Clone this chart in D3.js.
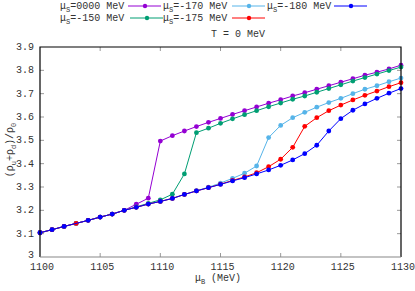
<!DOCTYPE html>
<html>
<head>
<meta charset="utf-8">
<script src="https://cdn.jsdelivr.net/npm/d3@7"></script>
<style>
  body { margin: 0; background: #fff; }
  text { font-family: "Liberation Mono", "DejaVu Sans Mono", monospace; fill: #333; }
</style>
</head>
<body>
<svg id="chart" width="415" height="291"></svg>
<script>
// mu_B values (MeV)
const muB = d3.range(1100, 1131);

// (rho_u + rho_d)/rho_0 for each mu_S
const ms0000 = [3.104, 3.117, 3.131, 3.144, 3.157, 3.171, 3.184, 3.2, 3.226, 3.252,
  3.497, 3.52, 3.54, 3.559, 3.577, 3.594, 3.611, 3.627, 3.643, 3.659,
  3.674, 3.69, 3.704, 3.719, 3.734, 3.749, 3.764, 3.779, 3.792, 3.806, 3.822];
const ms150 = [3.104, 3.117, 3.131, 3.144, 3.157, 3.171, 3.184, 3.2, 3.215, 3.23,
  3.245, 3.269, 3.356, 3.533, 3.552, 3.573, 3.592, 3.61, 3.627, 3.644,
  3.66, 3.676, 3.69, 3.706, 3.722, 3.738, 3.754, 3.769, 3.784, 3.799, 3.814];
const ms170 = [3.104, 3.117, 3.131, 3.144, 3.157, 3.171, 3.184, 3.2, 3.213, 3.227,
  3.238, 3.251, 3.268, 3.284, 3.299, 3.317, 3.337, 3.359, 3.39, 3.512,
  3.564, 3.597, 3.62, 3.642, 3.662, 3.68, 3.7, 3.719, 3.734, 3.751, 3.767];
const ms175 = [3.104, 3.117, 3.131, 3.144, 3.157, 3.171, 3.184, 3.2, 3.213, 3.227,
  3.238, 3.251, 3.268, 3.283, 3.297, 3.312, 3.328, 3.343, 3.361, 3.387,
  3.419, 3.47, 3.56, 3.597, 3.627, 3.651, 3.673, 3.693, 3.711, 3.73, 3.747];
const ms180 = [3.104, 3.117, 3.131, null, 3.157, 3.171, 3.184, 3.2, 3.213, 3.227,
  3.238, 3.251, 3.268, 3.283, 3.297, 3.311, 3.326, 3.34, 3.356, 3.373,
  3.393, 3.416, 3.443, 3.479, 3.54, 3.593, 3.629, 3.656, 3.68, 3.702, 3.722];

const seriesNames = ["0000", "-150", "-170", "-175", "-180"];
const seriesColors = ["#9400d3", "#009e73", "#56b4e9", "#ff0000", "#0000ff"];
const seriesValues = [ms0000, ms150, ms170, ms175, ms180];

const xTicks = [1100, 1105, 1110, 1115, 1120, 1125, 1130];
const yTicks = [3, 3.1, 3.2, 3.3, 3.4, 3.5, 3.6, 3.7, 3.8, 3.9];

const svg = d3.select("#chart");
const pLeft = 40, pRight = 401, pTop = 47, pBottom = 257;

const x = d3.scaleLinear().domain([1100, 1130]).range([pLeft, pRight]);
const y = d3.scaleLinear().domain([3, 3.9]).range([pBottom, pTop]);

// ticks (inward, on all four sides)
const tickG = svg.append("g").attr("stroke", "#999").attr("stroke-width", 1);
xTicks.slice(1, -1).forEach(t => {
  tickG.append("line").attr("x1", x(t)).attr("x2", x(t)).attr("y1", pBottom).attr("y2", pBottom - 4);
  tickG.append("line").attr("x1", x(t)).attr("x2", x(t)).attr("y1", pTop).attr("y2", pTop + 4);
});
yTicks.slice(1, -1).forEach(t => {
  tickG.append("line").attr("x1", pLeft).attr("x2", pLeft + 4).attr("y1", y(t)).attr("y2", y(t));
  tickG.append("line").attr("x1", pRight).attr("x2", pRight - 4).attr("y1", y(t)).attr("y2", y(t));
});

// tick labels
svg.append("g").selectAll("text").data(xTicks).join("text")
  .attr("x", d => x(d) + 2).attr("y", 270)
  .attr("text-anchor", "middle").attr("font-size", 10)
  .text(d => d);
svg.append("g").selectAll("text").data(yTicks).join("text")
  .attr("x", 34).attr("y", d => y(d) + (d === 3 ? 1 : 3))
  .attr("text-anchor", "end").attr("font-size", 10)
  .text(d => d);

// series
const line = d3.line().x(d => x(d[0])).y(d => y(d[1]));

seriesValues.forEach((vals, i) => {
  const pts = muB.map((m, j) => [m, vals[j]]).filter(d => d[1] != null);
  const g = svg.append("g");
  g.append("path").datum(pts)
    .attr("fill", "none").attr("stroke", seriesColors[i]).attr("stroke-width", 1)
    .attr("d", line);
  g.selectAll("circle").data(pts).join("circle")
    .attr("cx", d => x(d[0])).attr("cy", d => y(d[1]))
    .attr("r", 2.4).attr("fill", seriesColors[i]);
});

// frame
svg.append("path")
  .attr("d", `M${pLeft},${pBottom}V${pTop}H${pRight}V${pBottom}`)
  .attr("fill", "none").attr("stroke", "#000").attr("stroke-width", 1.2);
svg.append("line").attr("x1", pLeft).attr("x2", pRight).attr("y1", pBottom).attr("y2", pBottom)
  .attr("stroke", "#888").attr("stroke-width", 1.2);

// axis titles
const xt = svg.append("text").attr("x", 218).attr("y", 281)
  .attr("text-anchor", "middle").attr("font-size", 10);
xt.append("tspan").text("μ");
xt.append("tspan").attr("dy", 3).attr("font-size", 7).text("B");
xt.append("tspan").attr("dy", -3).text("  (MeV)");

const yt = svg.append("text").attr("transform", "translate(13,150) rotate(-90)")
  .attr("text-anchor", "middle").attr("font-size", 10);
yt.append("tspan").text("(ρ");
yt.append("tspan").attr("dy", 3).attr("font-size", 7).text("u");
yt.append("tspan").attr("dy", -3).text("+ρ");
yt.append("tspan").attr("dy", 3).attr("font-size", 7).text("d");
yt.append("tspan").attr("dy", -3).text(")/ρ");
yt.append("tspan").attr("dy", 3).attr("font-size", 7).text("0");

// legend
const legendPos = [[60, 9, 128], [163, 9, 232], [267, 9, 334], [60, 21, 130], [163, 21, 232]];
const legendOrder = [0, 2, 4, 1, 3];
legendOrder.forEach((si, k) => {
  const [tx, ty, lx] = legendPos[k];
  const t = svg.append("text").attr("x", tx).attr("y", ty).attr("font-size", 10);
  t.append("tspan").text("μ");
  t.append("tspan").attr("dy", 3).attr("font-size", 7).text("S");
  t.append("tspan").attr("dy", -3).text("=" + seriesNames[si] + " MeV");
  svg.append("line").attr("x1", lx).attr("x2", lx + 33).attr("y1", ty - 3).attr("y2", ty - 3)
    .attr("stroke", seriesColors[si]).attr("stroke-width", 1);
  svg.append("circle").attr("cx", lx + 17).attr("cy", ty - 3).attr("r", 2.2)
    .attr("fill", seriesColors[si]);
});

svg.append("text").attr("x", 238).attr("y", 37)
  .attr("text-anchor", "middle").attr("font-size", 10)
  .text("T = 0 MeV");
</script>
</body>
</html>
